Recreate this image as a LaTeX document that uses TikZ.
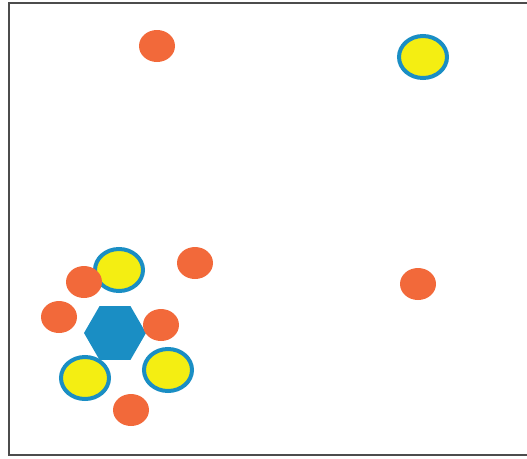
\documentclass[tikz,border=0pt]{standalone}
\usepackage{xcolor}
\usepackage{tikz}
\usetikzlibrary{shapes.geometric, positioning}

\definecolor{dotorange}{HTML}{F2693A}
\definecolor{dotyellow}{HTML}{F4EE12}
\definecolor{dotblue}{HTML}{1A8EC4}

\begin{document}
\begin{tikzpicture}[x=1pt, y=-1pt]
\tikzstyle{reddot} = [ellipse, minimum width=36pt, minimum height=32pt, inner sep=0pt, fill=dotorange]
\tikzstyle{yellowdot} = [ellipse, minimum width=48pt, minimum height=42pt, inner sep=0pt, fill=dotyellow, draw=dotblue, line width=4pt]
\tikzstyle{hub} = [regular polygon, regular polygon sides=6, minimum size=62pt, inner sep=0pt, fill=dotblue]

\useasboundingbox (0,0) rectangle (527,458);
\draw [line width=1.6pt, draw=black!70] (9,3) rectangle (532,455);

\node (ytop) [yellowdot] at (423,57) {};
\node (rtop) [reddot] at (157,46) {};

\node (yup) [yellowdot] at (119,270) {};
\node (rleft) [reddot] at (84,282) {};
\node (rup) [reddot] at (195,263) {};
\node (rfar) [reddot] at (418,284) {};
\node (rside) [reddot] at (59,317) {};

\node (ylow) [yellowdot] at (85,378) {};
\node (yright) [yellowdot] at (168,370) {};
\node (core) [hub] at (115,333) {};
\node (rcore) [reddot] at (161,325) {};
\node (rlow) [reddot] at (131,410) {};
\end{tikzpicture}
\end{document}
